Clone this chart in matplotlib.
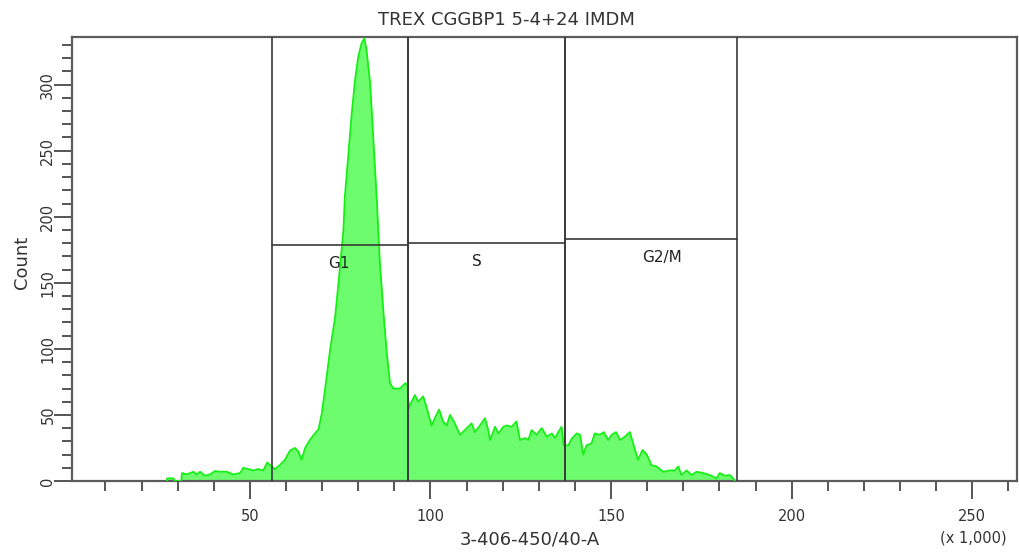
import matplotlib
matplotlib.use("Agg")
import matplotlib.pyplot as plt
from matplotlib.ticker import MultipleLocator

# Histogram outline: channel value (x 1,000) and event count
channel = [
    27.0, 27.1, 28.8, 29.3, 31.0, 31.2, 32.5, 34.4, 35.3, 36.2, 37.6, 39.0,
    40.3, 41.7, 43.6, 45.4, 47.3, 48.2, 49.6, 50.9, 52.3, 53.7, 54.8, 55.6,
    56.9, 58.3, 59.7, 61.1, 62.5, 63.5, 64.3, 65.3, 66.6, 68.0, 69.0, 69.9,
    70.8, 72.2, 73.6, 74.9, 75.9, 76.3, 77.3, 78.2, 79.1, 80.0, 80.9, 81.7,
    82.3, 83.3, 84.2, 85.1, 86.0, 87.0, 87.9, 88.8, 89.7, 91.6, 93.0, 93.6,
    94.0, 94.3, 95.7, 96.6, 98.0, 98.9, 100.3, 101.2, 102.4, 103.5, 104.5,
    105.4, 106.3, 108.2, 109.5, 111.4, 112.3, 113.7, 115.1, 116.0, 116.5,
    117.9, 118.8, 120.2, 121.1, 122.5, 123.8, 124.8, 126.2, 127.1, 128.0,
    129.4, 130.8, 132.2, 133.6, 134.5, 135.4, 136.3, 136.9, 138.2, 139.1,
    140.5, 141.4, 142.3, 143.2, 144.6, 145.5, 146.9, 148.0, 149.2, 150.2,
    151.4, 152.5, 153.8, 155.2, 156.1, 157.5, 158.7, 159.9, 161.2, 162.6,
    164.5, 166.3, 167.7, 168.6, 169.5, 170.9, 172.3, 173.7, 175.5, 177.4,
    179.2, 180.1, 181.5, 182.9, 183.8, 184.3,
]
counts = [
    0, 2, 2, 0, 0, 6, 5, 7, 5, 7, 4, 5,
    7.5, 7, 7, 5, 6, 10, 9, 8, 9, 8, 14, 12,
    9, 12, 16, 23, 25, 22, 16, 25, 31, 36, 39, 51,
    69, 99, 124, 160, 190, 215, 248, 278, 303, 321, 331, 335,
    326, 301, 258, 215, 165, 127, 97, 74, 70, 70, 74, 73,
    55, 57.5, 65, 60, 64, 56, 42, 47.5, 54, 45, 42,
    50, 46, 35, 38.5, 43.6, 37, 42, 47.5, 38.5, 31,
    41, 36, 41, 42, 41, 45, 31, 32.5, 31, 38.5,
    35, 40, 33.5, 36, 32.5, 37, 41, 27, 27, 32,
    36, 35, 20, 27, 28.5, 36, 35, 37, 31, 35,
    37, 31, 33.5, 37, 28.5, 16, 23.5, 20, 12, 11,
    7, 8, 8, 11, 4.5, 8, 4.5, 7, 6, 4.5,
    2, 6, 4, 4.5, 2, 0,
]

# Cell-cycle gates: name, channel range, marker level
gate_names = ["G1", "S", "G2/M"]
gate_lo = [56.1, 93.8, 137.2]
gate_hi = [93.8, 137.2, 184.8]
gate_levels = [178.5, 180.0, 183.0]

title = "TREX CGGBP1 5-4+24 IMDM"
x_title = "3-406-450/40-A"
y_title = "Count"

plt.rcParams["font.family"] = ["DejaVu Sans"]

fig = plt.figure(figsize=(10.2, 5.53), dpi=100)
ax = fig.add_axes([72 / 1020, 72 / 553, 945 / 1020, 444 / 553])

ax.fill_between(channel, counts, 0, color="#6dfc6d", lw=0, zorder=2)
ax.plot(channel, counts, color="#14f014", lw=1.3, zorder=3)

gate_col = "#3a3a3a"
# horizontal nudge (points) for each gate name
label_dx = [-1, -7, 8]
for name, lo, hi, lvl, dx in zip(gate_names, gate_lo, gate_hi, gate_levels, label_dx):
    ax.axvline(lo, color=gate_col, lw=1.2, zorder=4)
    ax.axvline(hi, color=gate_col, lw=1.2, zorder=4)
    ax.plot([lo, hi], [lvl, lvl], color=gate_col, lw=1.2, zorder=4)
    ax.annotate(name, ((lo + hi) / 2, lvl), xytext=(dx, -8),
                textcoords="offset points", ha="center", va="top",
                fontsize=11, color="#222222", zorder=5)

ax.set_xlim(0.75, 262.4)
ax.set_ylim(0, 336)

ax.xaxis.set_major_locator(MultipleLocator(50))
ax.xaxis.set_minor_locator(MultipleLocator(10))
ax.yaxis.set_major_locator(MultipleLocator(50))
ax.yaxis.set_minor_locator(MultipleLocator(10))

tick_col = "#555555"
ax.tick_params(which="major", length=13, width=1.4, color=tick_col,
               labelsize=10.5, labelcolor="#333333", direction="out")
ax.tick_params(which="minor", length=7, width=1.4, color=tick_col,
               direction="out")
ax.tick_params(axis="x", which="major", pad=7)
ax.tick_params(axis="y", which="major", labelrotation=90, pad=-1)
for lab in ax.get_yticklabels():
    lab.set_va("center")

for sp in ax.spines.values():
    sp.set_color("#5c5c5c")
    sp.set_linewidth(1.6)

fig.text(506 / 1020, 1 - 20 / 553, title, ha="center", va="center",
         fontsize=13, color="#333333")
fig.text(530 / 1020, 1 - 540 / 553, x_title, ha="center", va="center",
         fontsize=13, color="#333333")
fig.text(973 / 1020, 1 - 538 / 553, "(x 1,000)", ha="center", va="center",
         fontsize=10.5, color="#333333")
fig.text(22 / 1020, 1 - 262 / 553, y_title, ha="center", va="center",
         rotation=90, fontsize=13, color="#333333")

fig.savefig("out.png", dpi=100, facecolor="white")
